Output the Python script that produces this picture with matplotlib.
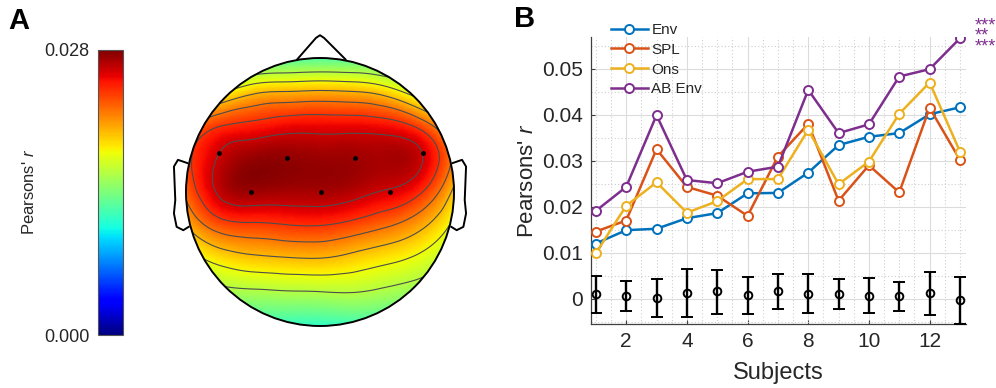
import numpy as np
import matplotlib
matplotlib.use('Agg')
import matplotlib.pyplot as plt
from matplotlib.patches import Circle
from matplotlib.ticker import MultipleLocator
import matplotlib.tri as mtri
import matplotlib.cm as cm
import matplotlib.colors as mcolors

plt.rcParams['font.family'] = ['Liberation Sans', 'DejaVu Sans']
plt.rcParams['mathtext.fontset'] = 'custom'
plt.rcParams['mathtext.it'] = 'Liberation Sans:italic'
plt.rcParams['mathtext.rm'] = 'Liberation Sans'

TXT = '#262626'

# ---------------- data: panel A (topography) -------------
grid_x = [-1.0, -0.75, -0.5, -0.25, 0.0, 0.25, 0.5, 0.75, 1.0]
grid_y = [1.0, 0.75, 0.5, 0.25, 0.0, -0.25, -0.5, -0.75, -1.0]
topo = [
    [0.0110, 0.0115, 0.0120, 0.0125, 0.0127, 0.0127, 0.0122, 0.0115, 0.0110],
    [0.0150, 0.0175, 0.0195, 0.0200, 0.0202, 0.0200, 0.0190, 0.0165, 0.0140],
    [0.0215, 0.0238, 0.0245, 0.0251, 0.0252, 0.0252, 0.0249, 0.0232, 0.0190],
    [0.0235, 0.0262, 0.0274, 0.0275, 0.0273, 0.0272, 0.0270, 0.0262, 0.0215],
    [0.0225, 0.0263, 0.0272, 0.0270, 0.0270, 0.0266, 0.0258, 0.0242, 0.0195],
    [0.0200, 0.0230, 0.0236, 0.0239, 0.0240, 0.0233, 0.0222, 0.0205, 0.0175],
    [0.0170, 0.0187, 0.0195, 0.0198, 0.0199, 0.0193, 0.0185, 0.0175, 0.0155],
    [0.0140, 0.0153, 0.0156, 0.0158, 0.0159, 0.0160, 0.0155, 0.0148, 0.0135],
    [0.0110, 0.0112, 0.0115, 0.0115, 0.0115, 0.0117, 0.0117, 0.0112, 0.0108],
]
contour_levels = [0.016, 0.018, 0.020, 0.022, 0.024, 0.026]
elec_x = [-0.754, -0.246, 0.261, 0.769, -0.515, 0.007, 0.522]
elec_y = [0.291, 0.254, 0.254, 0.291, 0.0, 0.0, 0.0]
cbar_min, cbar_max = 0.0, 0.028
cbar_labels = ['0.000', '0.028']

# ---------------- data: panel B --------------------------------------------------
subjects = [1, 2, 3, 4, 5, 6, 7, 8, 9, 10, 11, 12, 13]
env = [0.0120, 0.0149, 0.0152, 0.0175, 0.0186, 0.0229, 0.0230, 0.0274, 0.0334,
       0.0352, 0.0360, 0.0401, 0.0416]
spl = [0.0146, 0.0170, 0.0325, 0.0243, 0.0224, 0.0180, 0.0309, 0.0380, 0.0213,
       0.0290, 0.0231, 0.0415, 0.0302]
ons = [0.0099, 0.0202, 0.0253, 0.0187, 0.0212, 0.0260, 0.0260, 0.0367, 0.0249,
       0.0298, 0.0402, 0.0470, 0.0320]
ab_env = [0.0191, 0.0243, 0.0399, 0.0258, 0.0251, 0.0276, 0.0287, 0.0454, 0.0360,
          0.0379, 0.0483, 0.0499, 0.0566]
null_mean = [0.0010, 0.0006, 0.0002, 0.0012, 0.0017, 0.0008, 0.0017, 0.0010,
             0.0010, 0.0006, 0.0006, 0.0012, -0.0003]
null_upper = [0.0050, 0.0039, 0.0043, 0.0064, 0.0062, 0.0048, 0.0054, 0.0054,
              0.0043, 0.0044, 0.0037, 0.0059, 0.0048]
null_lower = [-0.0030, -0.0026, -0.0040, -0.0040, -0.0033, -0.0033, -0.0023,
              -0.0030, -0.0023, -0.0030, -0.0026, -0.0035, -0.0055]
series_names = ['Env', 'SPL', 'Ons', 'AB Env']
series_colors = ['#0072BD', '#D95319', '#EDB120', '#7E2F8E']
xticks = [2, 4, 6, 8, 10, 12]
yticks = [0, 0.01, 0.02, 0.03, 0.04, 0.05]
ytick_labels = ['0', '0.01', '0.02', '0.03', '0.04', '0.05']

W, H = 996, 388
fig = plt.figure(figsize=(W / 100, H / 100), dpi=100)


def fx(px):
    return px / W


def fy(py):
    return 1 - py / H


# ---------------- panel A ------------------------------------------------------
cax = fig.add_axes([fx(98), fy(335), fx(123) - fx(98), fy(50) - fy(335)])
norm = mcolors.Normalize(vmin=cbar_min, vmax=cbar_max)
sm = cm.ScalarMappable(norm=norm, cmap='jet')
cb = fig.colorbar(sm, cax=cax, orientation='vertical')
cb.outline.set_edgecolor('#555555')
cb.outline.set_linewidth(0.8)
cax.yaxis.set_ticks_position('left')
cax.set_yticks([cbar_min, cbar_max])
cax.set_yticklabels(cbar_labels)
cax.tick_params(axis='y', length=0, pad=6, labelsize=13, labelcolor=TXT)
fig.text(fx(29), fy(192), "Pearsons' $r$", rotation=90, ha='center', va='center',
         fontsize=12, color=TXT)

R = 134.0
hax = fig.add_axes([fx(320 - 1.3 * R), fy(192 + 1.1 * R),
                    fx(2.6 * R), (2.4 * R) / H])
hax.set_xlim(-1.3, 1.3)
hax.set_ylim(-1.1, 1.3)
hax.set_aspect('equal')
hax.axis('off')

Z = np.array(topo)
GX, GY = np.meshgrid(grid_x, grid_y)
triang = mtri.Triangulation(GX.ravel(), GY.ravel())
refiner = mtri.UniformTriRefiner(triang)
tri_f, z_f = refiner.refine_field(Z.ravel(), subdiv=4)
clip = Circle((0, 0), 1.0, transform=hax.transData)
tp = hax.tripcolor(tri_f, z_f, shading='gouraud', cmap='jet', norm=norm,
                   zorder=1)
tp.set_clip_path(clip)
cs = hax.tricontour(tri_f, z_f, levels=contour_levels, colors='#4d4d4d',
                    linewidths=0.8, zorder=2)
cs.set_clip_path(clip)

hax.add_patch(Circle((0, 0), 1.0, fill=False, ec='black', lw=1.4, zorder=4))
hax.plot([-0.17, -0.03, 0.0, 0.03, 0.19], [0.99, 1.15, 1.17, 1.15, 0.99],
         color='black', lw=1.4, zorder=4, solid_joinstyle='round')
ear_x = [0.99, 1.06, 1.09, 1.08, 1.09, 1.07, 1.02, 0.98]
ear_y = [0.216, 0.24, 0.19, -0.06, -0.16, -0.26, -0.285, -0.26]
hax.plot([-v for v in ear_x], ear_y, color='black', lw=1.4, zorder=4)
hax.plot(ear_x, ear_y, color='black', lw=1.4, zorder=4)
hax.scatter(elec_x, elec_y, s=6, color='black', zorder=5)

fig.text(fx(8), fy(21), 'A', fontsize=21, fontweight='bold', ha='left',
         va='center', color='black')

# ---------------- panel B ------------------------------------------------------
ax = fig.add_axes([fx(591), fy(324), fx(966) - fx(591), fy(36.5) - fy(324)])
ax.set_xlim(0.84, 13.2)
ax.set_ylim(-0.0055, 0.057)
ax.xaxis.set_minor_locator(MultipleLocator(0.5))
ax.yaxis.set_minor_locator(MultipleLocator(0.005))
ax.set_xticks(xticks)
ax.set_yticks(yticks)
ax.set_yticklabels(ytick_labels)
ax.grid(which='major', color='#dcdcdc', lw=0.8, ls='-')
ax.grid(which='minor', color='#cfcfcf', lw=0.8, ls=(0, (1, 2)))
ax.set_axisbelow(True)
for s in ['top', 'right']:
    ax.spines[s].set_visible(False)
for s in ['left', 'bottom']:
    ax.spines[s].set_color('#404040')
    ax.spines[s].set_linewidth(0.9)
ax.tick_params(which='major', direction='in', length=3, color='#404040',
               labelsize=15, labelcolor=TXT, pad=6)
ax.tick_params(which='minor', length=0)

handles = []
for vals, name, col in zip([env, spl, ons, ab_env], series_names, series_colors):
    h, = ax.plot(subjects, vals, '-o', color=col, lw=1.8, ms=6.5, mew=1.4,
                 mfc='white', label=name, zorder=3)
    handles.append(h)

yerr = [np.array(null_mean) - np.array(null_lower),
        np.array(null_upper) - np.array(null_mean)]
ax.errorbar(subjects, null_mean, yerr=yerr, fmt='o', color='black', ms=5.5,
            mfc='none', mew=1.4, elinewidth=1.7, capsize=4.5, capthick=1.7,
            zorder=4)

ax.set_xlabel('Subjects', fontsize=17, color=TXT, labelpad=8)
ax.set_ylabel("Pearsons' $r$", fontsize=16, color=TXT, labelpad=3)

leg = ax.legend(handles=handles, loc='upper left',
                bbox_to_anchor=(fx(611), fy(23)), bbox_transform=fig.transFigure,
                frameon=False, fontsize=11, borderpad=0, borderaxespad=0,
                handlelength=2.4, handletextpad=0.25, labelspacing=0.38,
                numpoints=1)
for t in leg.get_texts():
    t.set_color(TXT)

fig.text(fx(975), fy(17), '***\n**\n***', fontsize=13, color='#7E2F8E',
         ha='left', va='top', linespacing=0.5)

fig.text(fx(514), fy(19), 'B', fontsize=21, fontweight='bold', ha='left',
         va='center', color='black')

fig.savefig('out.png', dpi=100, facecolor='white')
